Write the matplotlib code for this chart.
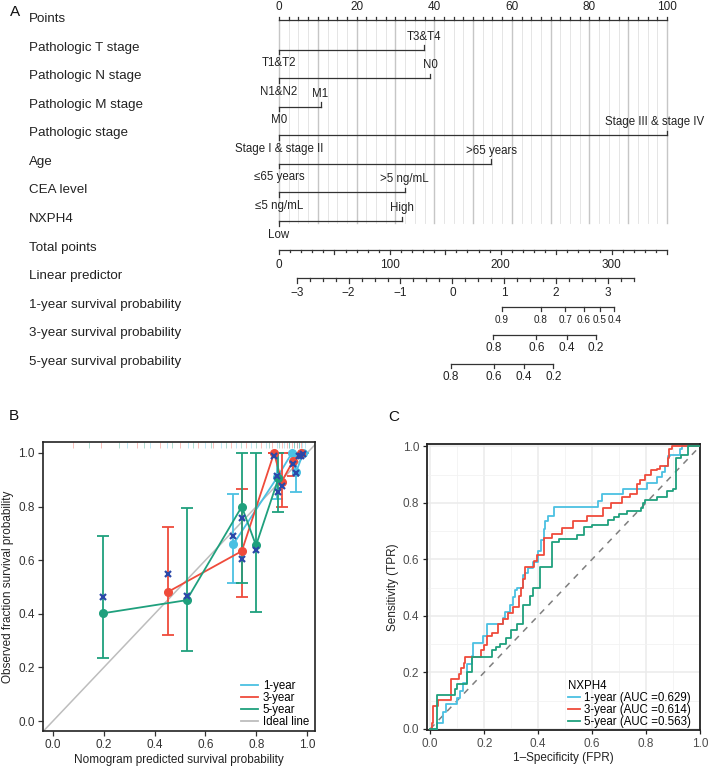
import numpy as np
import matplotlib
matplotlib.use("Agg")
import matplotlib.pyplot as plt
from matplotlib import transforms

plt.rcParams['font.family'] = ['Liberation Sans', 'DejaVu Sans']

W, H = 709, 767

# ---------------- Panel A: nomogram data ----------------
points_ticks = [0, 20, 40, 60, 80, 100]
var_names = ["Pathologic T stage", "Pathologic N stage", "Pathologic M stage",
             "Pathologic stage", "Age", "CEA level", "NXPH4"]
var_points = [37.4, 39.0, 10.7, 100.0, 54.7, 32.4, 31.6]
var_top_labels = ["T3&T4", "N0", "M1", "Stage III & stage IV", ">65 years", ">5 ng/mL", "High"]
var_bottom_labels = ["T1&T2", "N1&N2", "M0", "Stage I & stage II", "≤65 years", "≤5 ng/mL", "Low"]
total_ticks = [0, 100, 200, 300]
total_max = 350
lp_ticks = [-3, -2, -1, 0, 1, 2, 3]
lp_range = [-3.0, 3.5]
lp_intercept = 156.4   # total points at linear predictor 0
lp_slope = 46.8        # total points per unit of linear predictor
surv_names = ["1-year survival probability", "3-year survival probability",
              "5-year survival probability"]
surv_ticks = [[0.9, 0.8, 0.7, 0.6, 0.5, 0.4],
              [0.8, 0.6, 0.4, 0.2],
              [0.8, 0.6, 0.4, 0.2]]
base_surv = [0.9604, 0.9037, 0.7946]

# ---------------- Panel B: calibration data ----------------
cal1_pred = [0.71, 0.883, 0.94, 0.957, 0.985]
cal1_obs = [0.66, 0.91, 1.0, 0.93, 1.0]
cal1_lo = [0.516, 0.83, 1.0, 0.856, 1.0]
cal1_hi = [0.846, 1.0, 1.0, 1.0, 1.0]

cal3_pred = [0.451, 0.743, 0.87, 0.90, 0.945, 0.975]
cal3_obs = [0.481, 0.634, 1.0, 0.893, 0.971, 1.0]
cal3_lo = [0.322, 0.464, 1.0, 0.80, 0.915, 1.0]
cal3_hi = [0.723, 0.864, 1.0, 1.0, 1.0, 1.0]

cal5_pred = [0.196, 0.526, 0.743, 0.799, 0.887]
cal5_obs = [0.402, 0.451, 0.80, 0.655, 0.905]
cal5_lo = [0.236, 0.261, 0.516, 0.408, 0.78]
cal5_hi = [0.69, 0.794, 1.0, 1.0, 1.0]

bc_pred = [0.196, 0.451, 0.526, 0.71, 0.743, 0.743, 0.799, 0.87, 0.883, 0.887,
           0.90, 0.943, 0.955, 0.97, 0.977, 0.985]
bc_obs = [0.461, 0.548, 0.466, 0.69, 0.756, 0.603, 0.64, 0.99, 0.914, 0.856,
          0.877, 0.959, 0.924, 0.99, 0.99, 0.995]

rug1 = [0.29, 0.38, 0.45, 0.53, 0.6, 0.66, 0.72, 0.78, 0.84, 0.88, 0.91, 0.93, 0.95, 0.96, 0.97, 0.98, 0.99]
rug3 = [0.08, 0.19, 0.33, 0.42, 0.5, 0.57, 0.63, 0.7, 0.76, 0.82, 0.86, 0.9, 0.92, 0.94, 0.96, 0.975]
rug5 = [0.14, 0.26, 0.36, 0.47, 0.55, 0.62, 0.68, 0.74, 0.8, 0.85, 0.89, 0.93, 0.95, 0.97]

# ---------------- Panel C: ROC data ----------------
roc1_fpr = [0, 0.025, 0.049, 0.06, 0.099, 0.111, 0.123, 0.136, 0.154, 0.16, 0.197, 0.21,
            0.268, 0.277, 0.296, 0.305, 0.315, 0.32, 0.343, 0.352, 0.363, 0.38, 0.40, 0.41,
            0.42, 0.426, 0.438, 0.457, 0.623, 0.636, 0.714, 0.805, 0.84, 0.86, 0.87, 0.88,
            0.89, 0.926, 0.935, 1.0]
roc1_tpr = [0, 0.02, 0.058, 0.088, 0.111, 0.135, 0.164, 0.228, 0.257, 0.304, 0.327, 0.371,
            0.392, 0.415, 0.44, 0.465, 0.49, 0.50, 0.544, 0.55, 0.57, 0.59, 0.63, 0.667,
            0.708, 0.737, 0.754, 0.786, 0.807, 0.83, 0.848, 0.871, 0.89, 0.91, 0.93, 0.965,
            0.97, 0.99, 1.0, 1.0]
roc3_fpr = [0, 0.005, 0.009, 0.012, 0.03, 0.078, 0.105, 0.113, 0.124, 0.13, 0.19, 0.20,
            0.21, 0.23, 0.253, 0.27, 0.29, 0.305, 0.33, 0.335, 0.345, 0.352, 0.383, 0.395,
            0.42, 0.45, 0.488, 0.531, 0.58, 0.642, 0.67, 0.71, 0.74, 0.765, 0.777, 0.795,
            0.82, 0.84, 0.85, 0.88, 0.885, 0.895, 1.0]
roc3_tpr = [0, 0.02, 0.047, 0.082, 0.102, 0.175, 0.195, 0.216, 0.232, 0.255, 0.28, 0.297,
            0.327, 0.34, 0.37, 0.39, 0.41, 0.43, 0.47, 0.50, 0.53, 0.573, 0.594, 0.614,
            0.675, 0.69, 0.71, 0.735, 0.753, 0.78, 0.80, 0.82, 0.83, 0.865, 0.88, 0.90,
            0.915, 0.92, 0.93, 0.96, 0.99, 1.0, 1.0]
roc5_fpr = [0, 0.025, 0.09, 0.10, 0.135, 0.154, 0.228, 0.245, 0.26, 0.28, 0.30, 0.32,
            0.343, 0.37, 0.38, 0.407, 0.45, 0.479, 0.543, 0.57, 0.60, 0.66, 0.68, 0.70,
            0.73, 0.78, 0.79, 0.795, 0.84, 0.876, 0.90, 0.911, 0.93, 0.956, 1.0]
roc5_tpr = [0, 0.119, 0.14, 0.16, 0.20, 0.254, 0.28, 0.29, 0.30, 0.32, 0.35, 0.37,
            0.44, 0.47, 0.50, 0.573, 0.66, 0.672, 0.687, 0.716, 0.72, 0.74, 0.75, 0.76,
            0.77, 0.78, 0.80, 0.81, 0.82, 0.84, 0.85, 0.96, 0.97, 1.0, 1.0]
roc_labels = ["1-year (AUC =0.629)", "3-year (AUC =0.614)", "5-year (AUC =0.563)"]

C1, C3, C5 = "#4BC0E2", "#EF4B3B", "#1FA07D"
BCX = "#2B48A8"
DARK = "#333333"

fig = plt.figure(figsize=(W / 100, H / 100), dpi=100)

# ================= Panel A =================
ax0 = fig.add_axes([279 / W, 1 - 390 / H, 388 / W, 390 / H])
ax0.set_xlim(0, 100)
ax0.set_ylim(390, 0)
ax0.axis("off")

ROW0, ROWH = 19.0, 28.58
row_y = [ROW0 + ROWH * i for i in range(13)]
row_names = ["Points"] + var_names + ["Total points", "Linear predictor"] + surv_names
lab_tr = transforms.blended_transform_factory(fig.transFigure, ax0.transData)
for nm, y in zip(row_names, row_y):
    ax0.text(29 / W, y, nm, transform=lab_tr, ha="left", va="center",
             fontsize=9.6, color="#222222")

LW = 0.9
# Points axis
yp = row_y[0] + 1.0
ax0.plot([0, 100], [yp, yp], color=DARK, lw=LW, clip_on=False)
for t in np.arange(0, 100.01, 2.5):
    ax0.plot([t, t], [yp, yp - (3.5 if t % 10 == 0 else 2.8)], color=DARK, lw=LW, clip_on=False)
for t in points_ticks:
    ax0.text(t, yp - 12.8, str(t), ha="center", va="center", fontsize=8.5, color="#222222")

# vertical reference grid
y_grid_end = row_y[7] + 3.5
for t in np.arange(0, 100.01, 2.5):
    major = (t % 10 == 0)
    ax0.plot([t, t], [yp, y_grid_end], color="#C6C6C6" if major else "#E0E0E0",
             lw=1.0 if major else 0.6, zorder=0, clip_on=False)

# variable rows
for i, (pmax, top, bot) in enumerate(zip(var_points, var_top_labels, var_bottom_labels)):
    y = row_y[i + 1] + 2.0
    ax0.plot([0, pmax], [y, y], color=DARK, lw=LW, clip_on=False, zorder=2)
    ax0.plot([pmax, pmax], [y, y - 4.5], color=DARK, lw=LW, clip_on=False, zorder=2)
    ax0.plot([0, 0], [y, y + 4.5], color=DARK, lw=LW, clip_on=False, zorder=2)
    dx = -12 if pmax >= 100 else 0
    ax0.annotate(top, (pmax, y - 13), xytext=(dx, 0), textcoords="offset pixels",
                 ha="center", va="center", fontsize=8.3, color="#222222")
    ax0.annotate(bot, (0, y + 13.5), ha="center", va="center", fontsize=8.3, color="#222222")

# total points
def tot2x(t):
    return np.asarray(t, dtype=float) * 100.0 / total_max

yt = row_y[8] + 2.0
ax0.plot([0, 100], [yt, yt], color=DARK, lw=LW, clip_on=False)
for t in range(0, total_max + 1, 10):
    ln = 4.3 if t % 50 == 0 else 2.6
    ax0.plot([tot2x(t), tot2x(t)], [yt, yt + ln], color=DARK, lw=LW, clip_on=False)
for t in total_ticks:
    ax0.text(tot2x(t), yt + 15, str(t), ha="center", va="center", fontsize=8.5, color="#222222")

# linear predictor
def lp2x(lp):
    return tot2x(lp_intercept + lp_slope * np.asarray(lp, dtype=float))

yl = row_y[9] + 2.0
ax0.plot([lp2x(lp_range[0]), lp2x(lp_range[1])], [yl, yl], color=DARK, lw=LW, clip_on=False)
for lp in np.arange(lp_range[0], lp_range[1] + 0.01, 0.25):
    ln = 4.3 if abs(lp - round(lp)) < 1e-9 else 2.6
    ax0.plot([lp2x(lp), lp2x(lp)], [yl, yl + ln], color=DARK, lw=LW, clip_on=False)
for lp in lp_ticks:
    lab = str(lp).replace("-", "\u2212")
    ax0.text(lp2x(lp), yl + 14.5, lab, ha="center", va="center", fontsize=8.5, color="#222222")

# survival probability axes
for k, (ticks, s0) in enumerate(zip(surv_ticks, base_surv)):
    ys = row_y[10 + k] + 2.0
    xs = [lp2x(np.log(np.log(p) / np.log(s0))) for p in ticks]
    ax0.plot([min(xs), max(xs)], [ys, ys], color=DARK, lw=LW, clip_on=False)
    fs = 7.2 if k == 0 else 8.5
    for x, p in zip(xs, ticks):
        ax0.plot([x, x], [ys, ys + 4], color=DARK, lw=LW, clip_on=False)
        ax0.text(x, ys + 13, f"{p:.1f}", ha="center", va="center", fontsize=fs, color="#222222")

# panel letters
fig.text(10 / W, 1 - 12 / H, "A", fontsize=11, ha="left", va="center", color="#111111")
fig.text(9 / W, 1 - 416 / H, "B", fontsize=11, ha="left", va="center", color="#111111")
fig.text(388 / W, 1 - 417 / H, "C", fontsize=11, ha="left", va="center", color="#111111")

# ================= Panel B =================
ax1 = fig.add_axes([43 / W, 1 - 731 / H, 272 / W, 289 / H])
ax1.set_xlim(-0.039, 1.031)
ax1.set_ylim(-0.037, 1.041)
ax1.plot([-0.05, 1.05], [-0.05, 1.05], color="#BDBDBD", lw=1.1, zorder=1)

for rx, c in zip([rug1, rug3, rug5], [C1, C3, C5]):
    ax1.vlines(rx, 1.018, 1.041, color=c, lw=0.7, alpha=0.35, zorder=1)

for pred, obs, lo, hi, c in [(cal1_pred, cal1_obs, cal1_lo, cal1_hi, C1),
                             (cal3_pred, cal3_obs, cal3_lo, cal3_hi, C3),
                             (cal5_pred, cal5_obs, cal5_lo, cal5_hi, C5)]:
    pred = np.array(pred); obs = np.array(obs)
    ax1.plot(pred, obs, color=c, lw=1.3, zorder=3)
    yerr = np.vstack([obs - np.array(lo), np.array(hi) - obs])
    ax1.errorbar(pred, obs, yerr=yerr, fmt="none", ecolor=c, elinewidth=1.3,
                 capsize=4, capthick=1.3, zorder=3)
    ax1.plot(pred, obs, "o", color=c, ms=5.5, zorder=4)
ax1.plot(bc_pred, bc_obs, "x", color=BCX, ms=4, mew=1.6, zorder=5)

ax1.set_xticks([0, 0.2, 0.4, 0.6, 0.8, 1.0])
ax1.set_yticks([0, 0.2, 0.4, 0.6, 0.8, 1.0])
ax1.set_xticklabels(["0.0", "0.2", "0.4", "0.6", "0.8", "1.0"])
ax1.set_yticklabels(["0.0", "0.2", "0.4", "0.6", "0.8", "1.0"])
ax1.tick_params(direction="out", length=3.5, width=0.9, labelsize=8.5, colors=DARK, pad=2.5)
for s in ax1.spines.values():
    s.set_linewidth(1.2)
    s.set_color("#222222")
ax1.set_xlabel("Nomogram predicted survival probability", fontsize=8.5, labelpad=2, color="#222222")
ax1.set_ylabel("Observed fraction survival probability", fontsize=8.5, labelpad=3, color="#222222")
hB = [plt.Line2D([], [], color=c, lw=1.3) for c in [C1, C3, C5, "#BDBDBD"]]
ax1.legend(hB, ["1-year", "3-year", "5-year", "Ideal line"], loc="lower right",
           bbox_to_anchor=(0.995, -0.005), frameon=False, fontsize=8.3, handlelength=1.45,
           handletextpad=0.45, labelspacing=0.0, borderaxespad=0.0)

# ================= Panel C =================
ax2 = fig.add_axes([427 / W, 1 - 730 / H, 273 / W, 286 / H])
ax2.set_xlim(-0.012, 1.0)
ax2.set_ylim(-0.004, 1.008)
ax2.set_xticks(np.arange(0, 1.01, 0.2))
ax2.set_yticks(np.arange(0, 1.01, 0.2))
ax2.set_xticks(np.arange(0.1, 1.0, 0.2), minor=True)
ax2.set_yticks(np.arange(0.1, 1.0, 0.2), minor=True)
ax2.set_xticklabels(["0.0", "0.2", "0.4", "0.6", "0.8", "1.0"])
ax2.set_yticklabels(["0.0", "0.2", "0.4", "0.6", "0.8", "1.0"])
ax2.grid(which="major", color="#EBEBEB", lw=1.1)
ax2.grid(which="minor", color="#F2F2F2", lw=0.6)
ax2.set_axisbelow(True)
ax2.plot([0, 1], [0, 1], color="#7F7F7F", lw=1.1, ls=(0, (4, 4)), zorder=2)
for f, t, c, lab in [(roc1_fpr, roc1_tpr, C1, roc_labels[0]),
                     (roc3_fpr, roc3_tpr, C3, roc_labels[1]),
                     (roc5_fpr, roc5_tpr, C5, roc_labels[2])]:
    ax2.plot(f, t, color=c, lw=1.3, drawstyle="steps-post", label=lab, zorder=3)
ax2.tick_params(which="major", direction="out", length=3, width=0.9, labelsize=8.5,
                colors="#222222", labelcolor="#4D4D4D", pad=2.5)
ax2.tick_params(which="minor", length=0)
for s in ax2.spines.values():
    s.set_linewidth(1.3)
    s.set_color("#222222")
ax2.set_xlabel("1\u2013Specificity (FPR)", fontsize=8.5, labelpad=2, color="#222222")
ax2.set_ylabel("Sensitivity (TPR)", fontsize=8.5, labelpad=3, color="#222222")
leg = ax2.legend(loc="lower right", bbox_to_anchor=(0.974, 0.0), title="NXPH4",
                 frameon=False, fontsize=8.3, title_fontsize=8.3, handlelength=1.0,
                 handletextpad=0.4, labelspacing=0.02, borderaxespad=0.0, borderpad=0.15)
leg._legend_box.align = "left"

fig.savefig("out.png", dpi=100)
